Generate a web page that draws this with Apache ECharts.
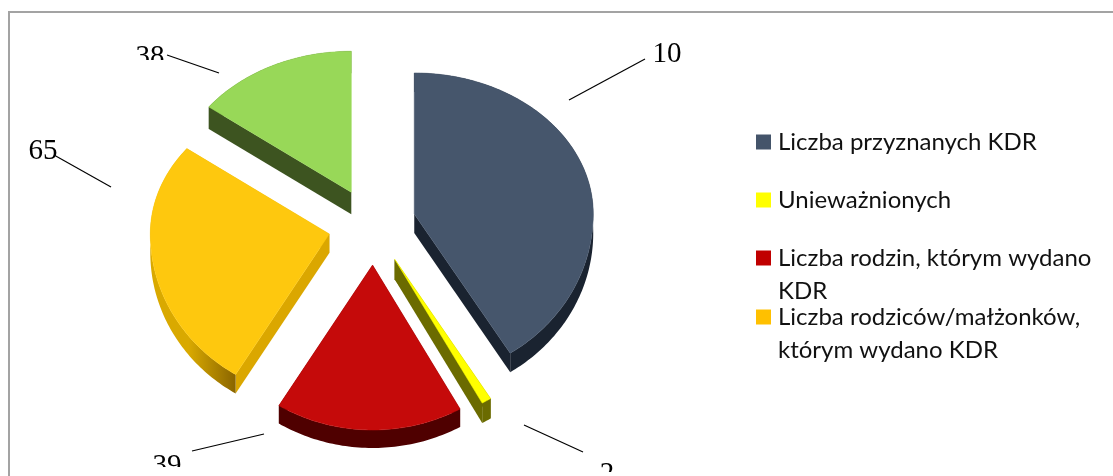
<!DOCTYPE html>
<html>
<head>
<meta charset="utf-8">
<style>html,body{margin:0;padding:0;background:#fff}#c{width:1113px;height:476px}</style>
<script src="https://cdn.jsdelivr.net/npm/echarts@6/dist/echarts.min.js"></script>
</head>
<body>
<div id="c"></div>
<script>
// ---- data ----
var categories = ['Liczba przyznanych KDR', 'Unieważnionych', 'Liczba rodzin, którym wydano KDR', 'Liczba rodziców/małżonków, którym wydano KDR', 'Pozostali'];
var values = [100, 2, 39, 65, 38];               // first value (its label is cut off)
var labelTexts = ['10', '2', '39', '65', '38'];  // labels as they appear in the picture
var legendLines = [['Liczba przyznanych KDR'], ['Unieważnionych'], ['Liczba rodzin, którym wydano', 'KDR'], ['Liczba rodziców/małżonków,', 'którym wydano KDR']];

// ---- style ----
var topColors = ['#46566c', '#ffff00', '#c50a0a', '#fec80e', '#98d858'];
var legendColors = ['#44546a', '#ffff00', '#c00000', '#ffc000', '#98d858'];
var sideColors = ['#1a2330', '#6b6b00', '#4f0000', '#dba700', '#3d5420'];
var arcColorsLeft = ['#1a2330', '#6b6b00', '#4f0000', '#d9a900', '#3d5420'];
var arcColorsRight = ['#1a2330', '#6b6b00', '#4f0000', '#8a6500', '#3d5420'];
var depths = [19, 20, 18, 19, 22];
var CX = 372, CY = 224, RX = 179, RY_BACK = 141, RY_FRONT = 165, EX = 44, EY_BACK = 36, EY_FRONT = 41;
var WARP_FROM = 147, WARP_AMOUNT = 4.5;          // perspective skew of the lower-left part of the pie
var legendCenters = [142, 200, 258, 317];
var labelPlaces = [[667, 54], [607, 474], [167, 466], [43, 151], [150, 57]];
var leaders = [[645, 59, 569, 100], [524, 425, 583, 452], [192, 451, 264, 434], [54, 155, 111, 187], [167, 55, 219, 73]];
var masks = [[125, 60, 50, 14], [140, 467, 60, 14], [590, 472, 40, 10]];

// ---- geometry derived from the values ----
var total = values.reduce(function (a, b) { return a + b; }, 0);
var rad = Math.PI / 180, run = 0;
var angles = values.map(function (v) {
  var s = run; run += v / total * 360;
  return [s, run];
});
function project(cx, cy, deg) {
  if (deg > WARP_FROM) deg += WARP_AMOUNT * Math.sin((deg - WARP_FROM) / (360 - WARP_FROM) * Math.PI);
  var c = Math.cos(deg * rad), s = Math.sin(deg * rad);
  return [cx + RX * s, cy - c * (c > 0 ? RY_BACK : RY_FRONT)];
}
function sliceRenderer(i) {
  return function () {
    var a = angles[i], mid = (a[0] + a[1]) / 2, cm = Math.cos(mid * rad);
    var cx = CX + EX * Math.sin(mid * rad), cy = CY - cm * (cm > 0 ? EY_BACK : EY_FRONT);
    var apex = [cx, cy], arc = [], n = Math.max(4, Math.ceil(a[1] - a[0]));
    for (var k = 0; k <= n; k++) arc.push(project(cx, cy, a[0] + (a[1] - a[0]) * k / n));
    function down(p) { return [p[0], p[1] + depths[i]]; }
    function wall(pts, fill) {
      return { type: 'polygon', shape: { points: pts.concat(pts.slice().reverse().map(down)) }, style: { fill: fill } };
    }
    var arcFill = { type: 'linear', x: 0, y: 0, x2: 1, y2: 0, colorStops: [
      { offset: 0, color: arcColorsLeft[i] }, { offset: 0.45, color: arcColorsLeft[i] }, { offset: 1, color: arcColorsRight[i] }] };
    var kids = [wall([apex, arc[0]], sideColors[i]), wall([arc[n], apex], sideColors[i]), wall(arc, arcFill)];
    kids.push({ type: 'polygon', shape: { points: [apex].concat(arc) }, style: { fill: topColors[i], stroke: topColors[i], lineWidth: 0.5 } });
    return { type: 'group', children: kids };
  };
}

// ---- option ----
var series = categories.map(function (name, i) {
  return { type: 'custom', name: name, coordinateSystem: 'none', silent: true, animation: false, clip: false, z: 5,
           itemStyle: { color: legendColors[i] }, data: [[values[i]]], renderItem: sliceRenderer(i) };
});
var legends = legendLines.map(function (lines, i) {
  var blockLines = lines.length > 1 ? ['', lines[0], lines[1]] : lines;
  return {
    data: [categories[i]], left: 756, top: legendCenters[i] - blockLines.length * 33 / 2, orient: 'vertical',
    selectedMode: false, itemWidth: 15, itemHeight: 15, itemGap: 0, icon: 'rect', padding: 0,
    formatter: function () { return blockLines.join('\n'); },
    textStyle: { fontFamily: 'Lato', fontSize: 24, lineHeight: 33, color: '#111', padding: [0, 0, 0, 2] }
  };
});
var graphics = [{ type: 'rect', z: 0, shape: { x: 9, y: 12, width: 1120, height: 490 }, style: { fill: 'none', stroke: '#a3a3a3', lineWidth: 2 } }];
labelTexts.forEach(function (t, i) {
  graphics.push({ type: 'text', z: 10, style: { text: t, x: labelPlaces[i][0], y: labelPlaces[i][1], align: 'center', verticalAlign: 'middle', font: '29px "Liberation Serif"', fill: '#000' } });
  var l = leaders[i];
  graphics.push({ type: 'line', z: 11, shape: { x1: l[0], y1: l[1], x2: l[2], y2: l[3] }, style: { stroke: '#000', lineWidth: 1.2 } });
});
masks.forEach(function (m) {
  graphics.push({ type: 'rect', z: 12, shape: { x: m[0], y: m[1], width: m[2], height: m[3] }, style: { fill: '#fff' } });
});

var chart = echarts.init(document.getElementById('c'), null, { renderer: 'canvas' });
chart.setOption({ backgroundColor: '#fff', animation: false, legend: legends, series: series, graphic: { elements: graphics } });
</script>
</body>
</html>
